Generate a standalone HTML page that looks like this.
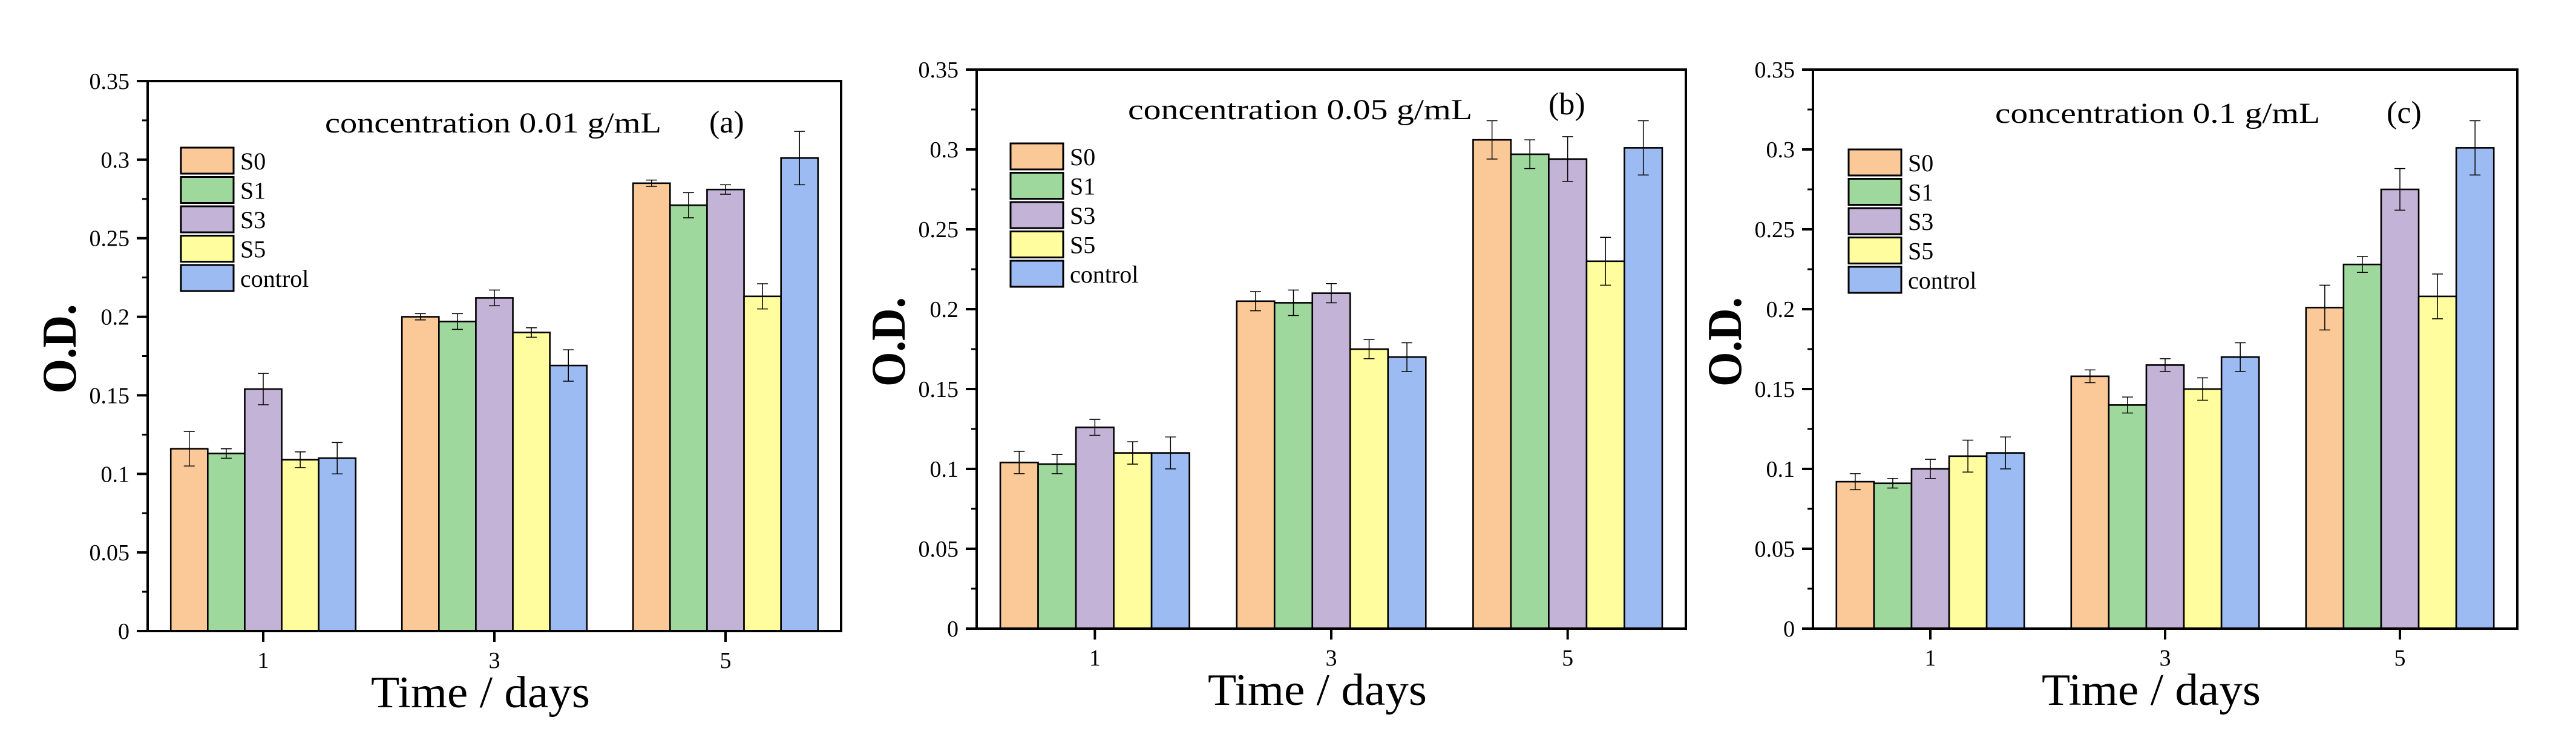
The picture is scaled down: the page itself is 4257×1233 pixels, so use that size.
<!DOCTYPE html>
<html><head><meta charset="utf-8"><style>
html,body{margin:0;padding:0;background:#fff;}
svg{display:block;}
text{font-family:"Liberation Serif","Times New Roman",serif;fill:#000;}
</style></head><body>
<svg id="fig" width="4257" height="1233" viewBox="0 0 4257 1233" xmlns="http://www.w3.org/2000/svg"></svg>
<script>
const categories = ["1","3","5"];
const seriesNames = ["S0","S1","S3","S5","control"];
const seriesColors = ["#FBC897","#9ED89C","#C3B3D7","#FFFD9E","#9DBBF3"];
const yTicks = [0,0.05,0.1,0.15,0.2,0.25,0.3,0.35];
const yTickLabels = ["0","0.05","0.1","0.15","0.2","0.25","0.3","0.35"];
// panel a (0.01 g/mL): rows = series, cols = days
const valuesA = [[0.116,0.200,0.285],[0.113,0.197,0.271],[0.154,0.212,0.281],[0.109,0.190,0.213],[0.110,0.169,0.301]];
const errorsA = [[0.011,0.002,0.002],[0.003,0.005,0.008],[0.010,0.005,0.003],[0.005,0.003,0.008],[0.010,0.010,0.017]];
// panel b (0.05 g/mL)
const valuesB = [[0.104,0.205,0.306],[0.103,0.204,0.297],[0.126,0.210,0.294],[0.110,0.175,0.230],[0.110,0.170,0.301]];
const errorsB = [[0.007,0.006,0.012],[0.006,0.008,0.009],[0.005,0.006,0.014],[0.007,0.006,0.015],[0.010,0.009,0.017]];
// panel c (0.1 g/mL)
const valuesC = [[0.092,0.158,0.201],[0.091,0.140,0.228],[0.100,0.165,0.275],[0.108,0.150,0.208],[0.110,0.170,0.301]];
const errorsC = [[0.005,0.004,0.014],[0.003,0.005,0.005],[0.006,0.004,0.013],[0.010,0.007,0.014],[0.010,0.009,0.017]];

const NS = "http://www.w3.org/2000/svg";
const svg = document.getElementById("fig");
function mk(tag, attrs, parent, txt){
  const e = document.createElementNS(NS, tag);
  for (const k in attrs) e.setAttribute(k, attrs[k]);
  if (txt !== undefined) e.textContent = txt;
  parent.appendChild(e);
  return e;
}

const panels = [
  {id:"a", L:244, R:1390, T:134, B:1043, vals:valuesA, errs:errorsA, title:"concentration 0.01 g/mL", tx:537, tw:556, ty:219, lab:"(a)", lx:1172, ly:219, legX:299, legY:244},
  {id:"b", L:1614, R:2786, T:115, B:1039, vals:valuesB, errs:errorsB, title:"concentration 0.05 g/mL", tx:1864, tw:569, ty:197, lab:"(b)", lx:2559, ly:189, legX:1670, legY:237},
  {id:"c", L:2996, R:4160, T:115, B:1039, vals:valuesC, errs:errorsC, title:"concentration 0.1 g/mL", tx:3297, tw:537, ty:203, lab:"(c)", lx:3944, ly:203, legX:3055, legY:247}
];

panels.forEach(p => {
  const g = mk("g", {}, svg);
  
  
  const yMax = 0.35;
  const yS = v => p.B - v / yMax * (p.B - p.T);
  const band = (p.R - p.L) / categories.length;
  const xC = i => p.L + band * (i + 0.5);
  const bw = band * 0.16;

  // bars
  seriesNames.forEach((s, si) => {
    categories.forEach((c, ci) => {
      const v = p.vals[si][ci];
      const x = xC(ci) - 2.5 * bw + si * bw;
      const r = mk("rect", {x:x, y:yS(v), width:bw, height:p.B - yS(v), fill:seriesColors[si], stroke:"#000", "stroke-width":2.6}, g);
      
      
    });
  });
  // error bars
  seriesNames.forEach((s, si) => {
    categories.forEach((c, ci) => {
      const v = p.vals[si][ci], e = p.errs[si][ci];
      const cx = xC(ci) - 2 * bw + si * bw;
      const eg = mk("g", {stroke:"#000", "stroke-width":1.5}, g);
      
      
      mk("line", {x1:cx, x2:cx, y1:yS(v - e), y2:yS(v + e)}, eg);
      mk("line", {x1:cx - 9, x2:cx + 9, y1:yS(v - e), y2:yS(v - e)}, eg);
      mk("line", {x1:cx - 9, x2:cx + 9, y1:yS(v + e), y2:yS(v + e)}, eg);
    });
  });

  // frame
  const fr = mk("rect", {x:p.L, y:p.T, width:p.R - p.L, height:p.B - p.T, fill:"none", stroke:"#000", "stroke-width":4}, g);
  
  

  // y ticks
  yTicks.forEach((t, i) => {
    const y = yS(t);
    mk("line", {x1:p.L - 18, x2:p.L, y1:y, y2:y, stroke:"#000", "stroke-width":4}, g);
    const tl = mk("text", {x:p.L - 30, y:y + 13, "font-size":38, "text-anchor":"end"}, g, yTickLabels[i]);
    
    
    if (i < yTicks.length - 1) {
      const ym = yS(t + 0.025);
      mk("line", {x1:p.L - 9, x2:p.L, y1:ym, y2:ym, stroke:"#000", "stroke-width":3}, g);
    }
  });
  // x ticks
  categories.forEach((c, ci) => {
    const x = xC(ci);
    mk("line", {x1:x, x2:x, y1:p.B, y2:p.B + 18, stroke:"#000", "stroke-width":4}, g);
    const xl = mk("text", {x:x, y:p.B + 61, "font-size":38, "text-anchor":"middle"}, g, c);
    
    
  });

  // axis titles
  const xt = mk("text", {x:(p.L + p.R) / 2 - 23, y:p.B + 126, "font-size":74, "text-anchor":"middle", textLength:362, lengthAdjust:"spacingAndGlyphs"}, g, "Time / days");
  
  
  const ycx = p.L - 147, ycy = (p.T + p.B) / 2 - 12;
  const yt = mk("text", {x:ycx, y:ycy, "font-size":80, "font-weight":"bold", "text-anchor":"middle", transform:"rotate(-90 " + ycx + " " + ycy + ") translate(0 28)", textLength:148, lengthAdjust:"spacingAndGlyphs"}, g, "O.D.");
  
  

  // inner title
  const tt = mk("text", {x:p.tx, y:p.ty, "font-size":48, textLength:p.tw, lengthAdjust:"spacingAndGlyphs"}, g, p.title);
  
  
  const pl = mk("text", {x:p.lx, y:p.ly, "font-size":52}, g, p.lab);
  
  

  // legend
  const lg = mk("g", {}, g);
  
  
  seriesNames.forEach((s, si) => {
    const y = p.legY + si * 48.5;
    const eg = mk("g", {}, lg);
    
    
    mk("rect", {x:p.legX, y:y, width:87, height:43, fill:seriesColors[si], stroke:"#000", "stroke-width":3}, eg);
    mk("text", {x:p.legX + 98, y:y + 36, "font-size":40}, eg, s);
  });
});
</script>
</body></html>
